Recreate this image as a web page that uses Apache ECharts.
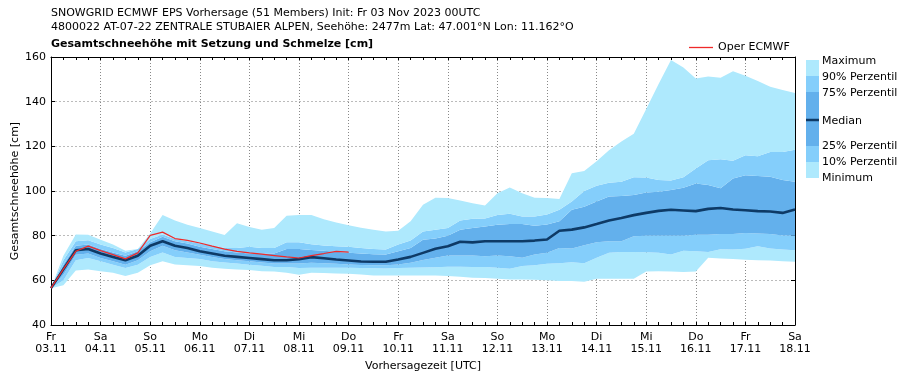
<!DOCTYPE html>
<html><head><meta charset="utf-8">
<script src="https://cdn.jsdelivr.net/npm/echarts@6/dist/echarts.min.js"></script>
<style>html,body{margin:0;padding:0;background:#fff}#c{width:909px;height:380px}</style>
</head><body><div id="c"></div>
<script>
const dayLabels = ['Fr\n03.11','Sa\n04.11','So\n05.11','Mo\n06.11','Di\n07.11','Mi\n08.11','Do\n09.11','Fr\n10.11','Sa\n11.11','So\n12.11','Mo\n13.11','Di\n14.11','Mi\n15.11','Do\n16.11','Fr\n17.11','Sa\n18.11'];
const hours = ['00','06','12','18'];
const yTicks = [40, 60, 80, 100, 120, 140, 160];

const minimum = [56.5,57.8,64.4,64.9,64.1,63.4,61.9,63.4,66.7,68.6,67.1,66.7,66.4,65.6,65.2,64.9,64.6,64.1,63.9,63.4,62.5,
  63.4,63.3,63.1,62.9,62.6,62.2,62.2,62.2,62.2,62.2,62.2,61.9,61.6,61.2,61,60.7,60.4,60.4,60.3,60,
  59.7,59.7,59.4,60.7,60.7,60.7,60.7,63.9,64.1,63.9,63.7,64,70.1,69.8,69.5,69.2,69,68.9,68.6,68.3];
const p10 = [56.5,60,69,70,68.5,67,65.5,67,70.5,72.5,70.5,70,69.5,68.5,68,67.5,67,66.5,66,66,65.5,
  65.6,65.6,65.6,65.6,65.5,65.4,65.3,65.5,65.6,65.8,65.9,66.1,66.1,66,66,65.6,65.2,66.4,66.8,67.4,
  67.6,68.1,67.6,70.1,72.3,72.7,72.7,72.6,72.3,71.6,73.3,73,72.7,73.9,73.8,74.1,75.3,74.2,73.8,73.5];
const p25 = [56.5,62.5,71.5,72,70,68.5,67,69,73,75.5,73.5,72.5,71.5,70.5,69.5,69,68.5,68,67.5,67.5,67.5,
  67.9,67.6,67.4,67.1,66.9,66.8,66.8,67.1,67.9,69.1,70.1,71.1,71.1,71.1,70.8,71.1,70.8,70.1,71.6,72.3,
  74.5,74.2,75.7,77,77.5,77.5,79.7,80,80,80,80,80.4,80.4,80.7,80.7,81.2,81,80.7,80.1,80];
const median = [56.5,65,73.5,74,72,70.5,69,71,75.5,77.5,75.5,74.5,73,72,71,70.5,70,69.5,69,69,69.5,
  70.4,69.9,69.3,68.9,68.4,68.3,68.3,69.3,70.5,72.3,74.1,75.3,77.3,77,77.5,77.5,77.5,77.5,77.8,78.3,
  82.2,82.7,83.7,85.2,86.8,87.9,89.2,90.2,91.1,91.6,91.3,91,92,92.4,91.7,91.4,91,90.8,90.2,91.7];
const p75 = [56.5,67,75.5,76,74,72.5,71,73,77,79.5,77.5,76.5,75,74,73,72.5,72,72,72,74,74,
  73.6,73.3,72.8,72.3,72,71.7,71.6,73,74.5,78.2,78.7,80,82.7,83.4,84.1,84.9,85.2,85.2,84.4,85,
  86.4,91.6,93,95.3,97.5,97.8,98.2,99.3,99.7,100.4,101.5,103.4,102.7,101.2,105.6,107.1,106.7,106.4,104.9,104.1];
const p90 = [56.5,69,77.5,78,76,74.5,72.5,74,78.5,80.5,78.5,77.5,76.5,75.5,74.5,74.5,75,74.5,74.5,77,77,
  76.2,75.6,75.3,75,74.5,74,73.8,76,77.8,81.9,82.7,83.4,86.8,87.6,87.7,89.3,89.8,88.6,88.6,89.5,
  91.6,95.3,100,102.4,103.7,104.1,106.2,106.1,104.9,104.7,106.2,110.1,113.8,114.2,113.6,116,115.6,117.5,117.5,118.5];
const maximum = [56.5,71,80.5,80.4,78.2,76,73.3,74,81,89.3,86.8,84.9,83.4,81.9,80.3,85.6,83.9,82.7,83.4,88.9,89.2,
  89.3,87.4,85.9,84.7,83.6,82.7,81.9,82.2,86.4,93.8,97,96.9,95.7,94.5,93.5,99,101.6,99,97,96.9,
  96.4,107.9,109,113.3,118.2,122.2,125.6,136.7,147.9,158.7,155.3,150.4,151.3,150.7,153.6,151.6,149.3,146.7,145.2,143.9];
const operEcmwf = [56.5,65,73,75.3,73.3,71.5,69.6,72.3,80.1,81.6,78.7,77.9,76.7,75.3,74,73,72.3,71.7,71.1,70.5,70,71.1,72,73,72.6];

const categories = [];
dayLabels.forEach((d, di) => {
  hours.forEach((h, hi) => {
    if (di < dayLabels.length - 1 || hi === 0) categories.push(d.split('\n')[1] + ' ' + h);
  });
});

const LIGHT = '#aee9fd', MED = '#84cefb', DARK = '#63b0ec', MEDIAN = '#0e3a66', RED = '#ee2a2a';
const diff = (a, b) => a.map((v, i) => +(v - b[i]).toFixed(2));
const FONT = 'DejaVu Sans';

function band(name, data, color) {
  return { name, type: 'line', stack: 'ens', data, symbol: 'none', silent: true,
    lineStyle: { width: 0, opacity: 0 }, areaStyle: { color, opacity: 1 }, z: 1 };
}

const chart = echarts.init(document.getElementById('c'), null, { renderer: 'canvas' });
chart.setOption({
  animation: false,
  textStyle: { fontFamily: FONT },
  grid: { left: 51, right: 114, top: 57, bottom: 55, containLabel: false, outerBoundsMode: 'none' },
  legend: { show: true, data: ['Oper ECMWF'], left: 684, top: 37, itemWidth: 24, itemHeight: 10, itemGap: 4,
    textStyle: { fontFamily: FONT, fontSize: 11, color: '#000' }, icon: 'path://M0,0 L24,0 L24,1.3 L0,1.3 Z' },
  xAxis: [{
    type: 'category', data: categories, boundaryGap: false,
    name: 'Vorhersagezeit [UTC]', nameLocation: 'middle', nameGap: 36, nameMoveOverlap: false,
    nameTextStyle: { fontFamily: FONT, fontSize: 11, color: '#000' },
    axisLine: { onZero: false, lineStyle: { color: '#000', width: 1 } },
    axisTick: { inside: true, length: 3, interval: 0, lineStyle: { color: '#000' } },
    axisLabel: { interval: 3, margin: 6, fontFamily: FONT, fontSize: 11, color: '#000', lineHeight: 12,
      formatter: (v, i) => dayLabels[Math.round(i / 4)] },
    splitLine: { show: true, interval: 3, lineStyle: { color: '#888', type: [1, 2], width: 1 } }
  }, {
    type: 'category', data: categories, boundaryGap: false, position: 'top',
    axisLine: { onZero: false, lineStyle: { color: '#000', width: 1 } },
    axisTick: { inside: true, length: 3, interval: 0, lineStyle: { color: '#000' } },
    axisLabel: { show: false }, splitLine: { show: false }
  }],
  yAxis: [{
    type: 'value', min: yTicks[0], max: yTicks[yTicks.length - 1], interval: 20,
    name: 'Gesamtschneehöhe [cm]', nameLocation: 'middle', nameGap: 30, nameRotate: 90, nameMoveOverlap: false,
    nameTextStyle: { fontFamily: FONT, fontSize: 11, color: '#000' },
    axisLine: { show: true, lineStyle: { color: '#000', width: 1 } },
    axisTick: { show: true, inside: true, length: 4, lineStyle: { color: '#000' } },
    axisLabel: { margin: 5, fontFamily: FONT, fontSize: 11, color: '#000' },
    splitLine: { show: true, lineStyle: { color: '#bbb', type: [2, 2], width: 1 } }
  }, {
    type: 'value', min: yTicks[0], max: yTicks[yTicks.length - 1], interval: 20, position: 'right',
    axisLine: { show: true, lineStyle: { color: '#000', width: 1 } },
    axisTick: { show: true, inside: true, length: 4, lineStyle: { color: '#000' } },
    axisLabel: { show: false }, splitLine: { show: false }
  }],
  series: [
    { name: 'base', type: 'line', stack: 'ens', data: minimum, symbol: 'none', silent: true,
      lineStyle: { width: 0, opacity: 0 }, z: 1 },
    band('Minimum', diff(p10, minimum), LIGHT),
    band('10% Perzentil', diff(p25, p10), MED),
    band('25-75% Perzentil', diff(p75, p25), DARK),
    band('90% Perzentil', diff(p90, p75), MED),
    band('Maximum', diff(maximum, p90), LIGHT),
    { name: 'Median', type: 'line', data: median, symbol: 'none', z: 3,
      lineStyle: { color: MEDIAN, width: 2.6 } },
    { name: 'Oper ECMWF', type: 'line', data: operEcmwf, symbol: 'none', z: 4,
      itemStyle: { color: RED }, lineStyle: { color: RED, width: 1.2 } }
  ],
  graphic: [
    { type: 'text', left: 51, top: 8, style: { text: 'SNOWGRID ECMWF EPS Vorhersage (51 Members) Init: Fr 03 Nov 2023 00UTC', font: '11px "DejaVu Sans"', fill: '#000' } },
    { type: 'text', left: 51, top: 22, style: { text: '4800022 AT-07-22 ZENTRALE STUBAIER ALPEN, Seehöhe: 2477m Lat: 47.001°N Lon: 11.162°O', font: '11px "DejaVu Sans"', fill: '#000' } },
    { type: 'text', left: 51, top: 39, style: { text: 'Gesamtschneehöhe mit Setzung und Schmelze [cm]', font: 'bold 11px "DejaVu Sans"', fill: '#000' } },
    { type: 'rect', shape: { x: 806, y: 60, width: 13, height: 16 }, style: { fill: LIGHT } },
    { type: 'rect', shape: { x: 806, y: 76, width: 13, height: 16 }, style: { fill: MED } },
    { type: 'rect', shape: { x: 806, y: 92, width: 13, height: 54 }, style: { fill: DARK } },
    { type: 'rect', shape: { x: 806, y: 146, width: 13, height: 16 }, style: { fill: MED } },
    { type: 'rect', shape: { x: 806, y: 162, width: 13, height: 16 }, style: { fill: LIGHT } },
    { type: 'line', shape: { x1: 806, y1: 120, x2: 819, y2: 120 }, style: { stroke: MEDIAN, lineWidth: 2.5 } },
    { type: 'text', x: 822, y: 61, style: { text: 'Maximum', font: '11px "DejaVu Sans"', fill: '#000', textVerticalAlign: 'middle' } },
    { type: 'text', x: 822, y: 77, style: { text: '90% Perzentil', font: '11px "DejaVu Sans"', fill: '#000', textVerticalAlign: 'middle' } },
    { type: 'text', x: 822, y: 93, style: { text: '75% Perzentil', font: '11px "DejaVu Sans"', fill: '#000', textVerticalAlign: 'middle' } },
    { type: 'text', x: 822, y: 121, style: { text: 'Median', font: '11px "DejaVu Sans"', fill: '#000', textVerticalAlign: 'middle' } },
    { type: 'text', x: 822, y: 146, style: { text: '25% Perzentil', font: '11px "DejaVu Sans"', fill: '#000', textVerticalAlign: 'middle' } },
    { type: 'text', x: 822, y: 162, style: { text: '10% Perzentil', font: '11px "DejaVu Sans"', fill: '#000', textVerticalAlign: 'middle' } },
    { type: 'text', x: 822, y: 178, style: { text: 'Minimum', font: '11px "DejaVu Sans"', fill: '#000', textVerticalAlign: 'middle' } }
  ]
});
</script>
</body></html>
